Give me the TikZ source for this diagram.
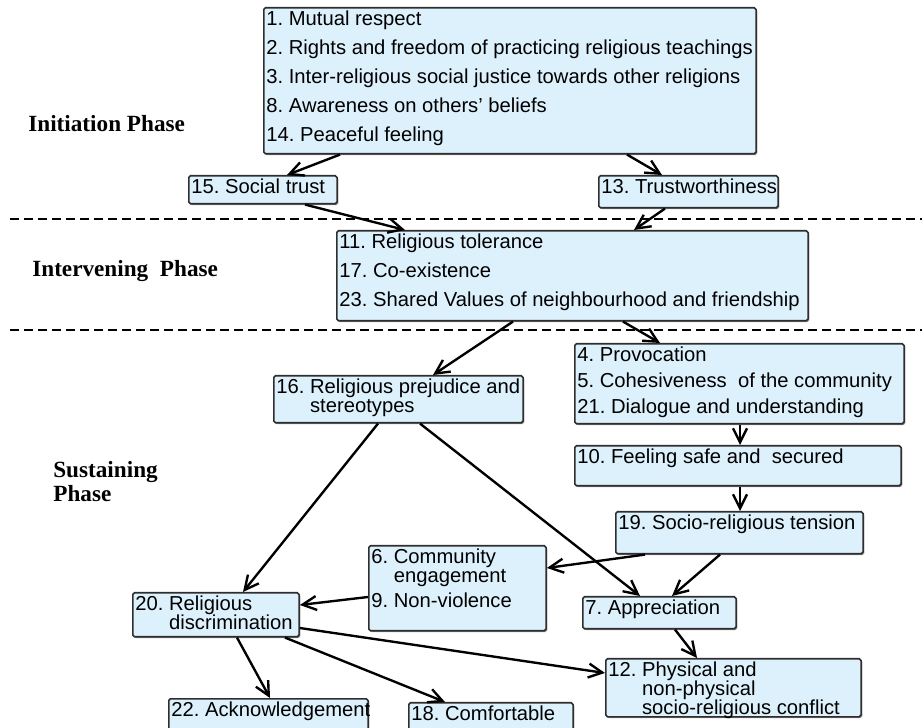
\documentclass[tikz,border=0pt]{standalone}
\usepackage{fontspec}
\setmainfont{Liberation Sans}
\newfontfamily\phasefont{Liberation Serif}
\usetikzlibrary{arrows.meta, shadows}

\definecolor{boxblue}{HTML}{DDF1FC}
\definecolor{boxline}{HTML}{2E2E2E}

% box text: width, height (cm), then the lines
\newcommand{\boxtext}[3]{\parbox[c][#2cm][t]{#1cm}{\vspace*{1.5pt}%
  \makebox[0pt][l]{\parbox[t]{20cm}{#3}}}}

\tikzset{
  itembox/.style={rectangle, draw=boxline, line width=0.9pt, fill=boxblue, rounded corners=1pt,
    inner xsep=1.5pt, inner ysep=0pt, anchor=north west, align=left,
    font=\fontsize{11.5}{11}\selectfont,
    drop shadow={shadow xshift=0.7pt, shadow yshift=-0.7pt, fill=black!60, opacity=0.7}},
  link/.style={-{Straight Barb[length=2.8mm, width=2.8mm]}, line width=1.35pt},
  phaseline/.style={line width=1.1pt, dash pattern=on 0.18cm off 0.1cm},
  phaselabel/.style={anchor=west, align=left, inner sep=0pt,
    font=\phasefont\bfseries\fontsize{13.2}{13.6}\selectfont}
}

\begin{document}
\frenchspacing
\begin{tikzpicture}
\useasboundingbox (0,0) rectangle (18.44,-14.56);

% Phase lines and labels
\draw[phaseline] (0.2,-4.38) -- (18.44,-4.38);
\draw[phaseline] (0.2,-6.6) -- (18.44,-6.6);
\node (initiation) [phaselabel] at (0.56,-2.48) {Initiation Phase};
\node (intervening) [phaselabel] at (0.64,-5.42) {Intervening\ \ Phase};
\node (sustaining) [phaselabel] at (1.06,-9.64) {Sustaining\\Phase};

% Nodes
\node (respect) [itembox] at (5.26,-0.14) {\boxtext{9.74}{2.92}{1. Mutual respect\\[5.5pt]
  2. Rights and freedom of practicing religious teachings\\[5.5pt]
  3. Inter-religious social justice towards other religions\\[5.5pt]
  8. Awareness on others' beliefs\\[5.5pt]
  14. Peaceful feeling}};
\node (trust) [itembox] at (3.76,-3.5) {\boxtext{2.86}{0.56}{15. Social trust}};
\node (worthy) [itembox] at (11.96,-3.5) {\boxtext{3.48}{0.64}{13. Trustworthiness}};
\node (tolerance) [itembox] at (6.72,-4.6) {\boxtext{9.32}{1.8}{11. Religious tolerance\\[5.5pt]
  17. Co-existence\\[5.5pt]
  23. Shared Values of neighbourhood and friendship}};
\node (prejudice) [itembox] at (5.46,-7.5) {\boxtext{4.88}{0.94}{16. Religious prejudice and\\
  \phantom{16. }stereotypes}};
\node (provocation) [itembox] at (11.48,-6.86) {\boxtext{6.48}{1.6}{4. Provocation\\[4pt]
  5. Cohesiveness\ \ of the community\\[4pt]
  21. Dialogue and understanding}};
\node (safe) [itembox] at (11.48,-8.9) {\boxtext{6.42}{0.8}{10. Feeling safe and\ \ secured}};
\node (tension) [itembox] at (12.3,-10.22) {\boxtext{4.84}{0.84}{19. Socio-religious tension}};
\node (engage) [itembox] at (7.36,-10.9) {\boxtext{3.44}{1.7}{6. Community\\
  \phantom{6. }engagement\\[3.5pt]
  9. Non-violence}};
\node (discrim) [itembox] at (2.64,-11.84) {\boxtext{3.22}{0.88}{20. Religious\\
  \phantom{20. }discrimination}};
\node (apprec) [itembox] at (11.64,-11.92) {\boxtext{2.96}{0.64}{7. Appreciation}};
\node (conflict) [itembox] at (12.1,-13.16) {\boxtext{5.0}{1.16}{12. Physical and\\
  \phantom{12. }non-physical\\
  \phantom{12. }socio-religious conflict}};
\node (acknow) [itembox] at (3.36,-13.96) {\boxtext{3.88}{0.8}{22. Acknowledgement}};
\node (comfort) [itembox] at (8.16,-14.04) {\boxtext{3.18}{0.8}{18. Comfortable}};

% Arrows
\draw[link] ([xshift=1.54cm]respect.south west) -- ([xshift=1.98cm]trust.north west);
\draw[link] ([xshift=7.28cm]respect.south west) -- ([xshift=1.28cm]worthy.north west);
\draw[link] ([xshift=2.34cm]trust.south west) -- ([xshift=1.38cm]tolerance.north west);
\draw[link] ([xshift=1.34cm]worthy.south west) -- ([xshift=5.96cm]tolerance.north west);
\draw[link] ([xshift=3.54cm]tolerance.south west) -- ([xshift=3.2cm]prejudice.north west);
\draw[link] ([xshift=5.74cm]tolerance.south west) -- ([xshift=1.72cm]provocation.north west);
\draw[link] ([xshift=3.32cm]provocation.south west) -- ([xshift=3.32cm]safe.north west);
\draw[link] ([xshift=3.32cm]safe.south west) -- ([xshift=2.5cm]tension.north west);
\draw[link] ([xshift=2.1cm]prejudice.south west) -- ([xshift=2.22cm]discrim.north west);
\draw[link] ([xshift=2.94cm]prejudice.south west) -- ([xshift=1.16cm]apprec.north west);
\draw[link] ([xshift=0.6cm]tension.south west) -- ([yshift=-0.46cm]engage.north east);
\draw[link] ([xshift=2.1cm]tension.south west) -- ([xshift=1.8cm]apprec.north west);
\draw[link] ([yshift=-1.04cm]engage.north west) -- ([yshift=-0.26cm]discrim.north east);
\draw[link] ([yshift=-0.72cm]discrim.north east) -- ([yshift=-0.3cm]conflict.north west);
\draw[link] ([xshift=1.86cm]apprec.south west) -- ([xshift=1.84cm]conflict.north west);
\draw[link] ([xshift=2.1cm]discrim.south west) -- ([xshift=2.04cm]acknow.north west);
\draw[link] ([xshift=3.06cm]discrim.south west) -- ([xshift=0.74cm]comfort.north west);
\end{tikzpicture}
\end{document}
